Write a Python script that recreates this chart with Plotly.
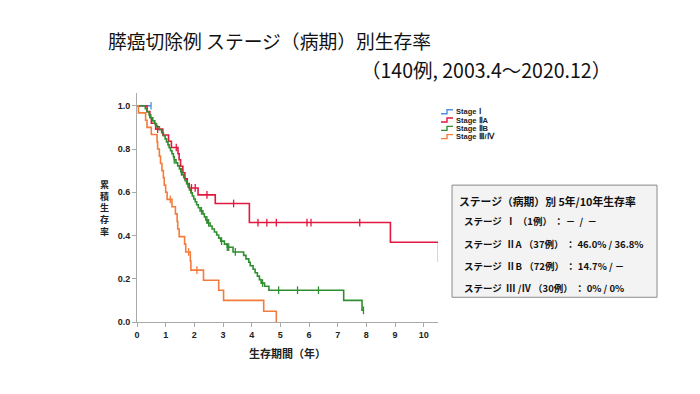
import plotly.graph_objects as go

# ---------------- data ----------------
series_names = ["Stage Ⅰ", "Stage ⅡA", "Stage ⅡB", "Stage Ⅲ/Ⅳ"]

# Stage I
s1_times = [0.0, 0.49]
s1_surv = [1.0, 1.0]
s1_censor = [0.49]

# Stage IIA
s2a_times = [0.0, 0.35, 0.45, 0.50, 0.65, 0.90, 1.10, 1.20, 1.43, 1.47, 1.52, 1.60,
             1.67, 1.75, 1.82, 2.13, 2.73, 3.92, 8.84, 10.52]
s2a_surv = [1.0, 0.973, 0.946, 0.919, 0.892, 0.865, 0.836, 0.807, 0.778, 0.750, 0.720, 0.690,
            0.662, 0.640, 0.620, 0.588, 0.548, 0.460, 0.369, 0.278]
s2a_censor = [0.72, 1.37, 1.90, 2.03, 2.44, 3.37, 4.22, 4.53, 4.86, 5.93, 6.07, 7.77]

# Stage IIB
s2b_times = [0.0, 0.29, 0.35, 0.42, 0.48, 0.55, 0.62, 0.68, 0.78, 0.86, 0.92, 0.98, 1.03,
             1.08, 1.12, 1.17, 1.22, 1.27, 1.30, 1.36, 1.42, 1.48, 1.53, 1.58, 1.63, 1.68,
             1.73, 1.78, 1.83, 1.88, 1.93, 1.98, 2.03, 2.08, 2.14, 2.20, 2.30, 2.35, 2.40,
             2.45, 2.55, 2.62, 2.70, 2.78, 2.85, 2.92, 3.05, 3.15, 3.35, 3.72, 3.80, 3.90,
             3.95, 4.05, 4.12, 4.20, 4.27, 4.33, 4.45, 4.60, 7.21, 7.85, 7.90]
s2b_surv = [1.0, 0.986, 0.972, 0.958, 0.944, 0.930, 0.917, 0.903, 0.889, 0.875, 0.861, 0.847,
            0.833, 0.819, 0.806, 0.792, 0.778, 0.764, 0.750, 0.736, 0.722, 0.708, 0.694, 0.681,
            0.667, 0.653, 0.639, 0.625, 0.611, 0.597, 0.583, 0.569, 0.556, 0.542, 0.528, 0.514,
            0.500, 0.486, 0.472, 0.458, 0.444, 0.430, 0.416, 0.402, 0.388, 0.374, 0.360, 0.346,
            0.324, 0.308, 0.292, 0.276, 0.260, 0.244, 0.228, 0.212, 0.196, 0.180, 0.165, 0.147,
            0.100, 0.054, 0.054]
s2b_censor = [1.30, 1.55, 2.25, 2.44, 2.50, 2.95, 3.15, 3.20, 3.43, 4.38, 4.94, 5.60, 6.33, 7.90]

# Stage III/IV
s34_times = [0.0, 0.05, 0.30, 0.35, 0.50, 0.70, 0.72, 0.78, 0.82, 0.87, 0.92, 0.95, 1.00,
             1.05, 1.22, 1.34, 1.40, 1.42, 1.47, 1.66, 1.70, 1.86, 1.88, 2.32, 2.85, 3.02,
             4.42, 4.86]
s34_surv = [1.0, 0.967, 0.933, 0.900, 0.867, 0.833, 0.800, 0.767, 0.733, 0.700, 0.667, 0.633,
            0.600, 0.567, 0.533, 0.500, 0.465, 0.430, 0.395, 0.360, 0.324, 0.282, 0.240,
            0.193, 0.147, 0.100, 0.050, 0.0]
s34_censor = [1.16, 1.80, 2.09]

colors = ["#4f8fe0", "#e3173f", "#2f8f2f", "#f47b3b"]

x_ticks = [0, 1, 2, 3, 4, 5, 6, 7, 8, 9, 10]
y_ticks = [0.0, 0.2, 0.4, 0.6, 0.8, 1.0]
y_tick_text = ["0.0", "0.2", "0.4", "0.6", "0.8", "1.0"]

title_text = "膵癌切除例 ステージ（病期）別生存率"
subtitle_text = "（140例, 2003.4～2020.12）"
y_title = "累積生存率"
x_title = "生存期間（年）"
box_header = "ステージ（病期）別 5年/10年生存率"
box_lines = [
    "ステージ  Ⅰ （1例） ： －  /  －",
    "ステージ  ⅡA （37例） ： 46.0% / 36.8%",
    "ステージ  ⅡB （72例） ： 14.7% / －",
    "ステージ  Ⅲ /Ⅳ （30例） ： 0% / 0%",
]

# ---------------- figure ----------------
JP = "Noto Sans CJK JP"
LAT = "Arial, Liberation Sans, sans-serif"


def surv_at(times, surv, t):
    val = surv[0]
    for ti, si in zip(times, surv):
        if ti <= t:
            val = si
        else:
            break
    return val


all_series = [
    (s1_times, s1_surv, s1_censor),
    (s2a_times, s2a_surv, s2a_censor),
    (s2b_times, s2b_surv, s2b_censor),
    (s34_times, s34_surv, s34_censor),
]

fig = go.Figure()
for name, col, (ts, ss, cs) in zip(series_names, colors, all_series):
    fig.add_trace(go.Scatter(
        x=ts, y=ss, mode="lines", name=name,
        line=dict(color=col, width=1.6, shape="hv"),
        showlegend=False,
    ))
for name, col, (ts, ss, cs) in zip(series_names, colors, all_series):
    fig.add_trace(go.Scatter(
        x=cs, y=[surv_at(ts, ss, c) for c in cs], mode="markers",
        marker=dict(symbol="line-ns-open", size=5.5, color=col,
                    line=dict(color=col, width=1.3)),
        showlegend=False, hoverinfo="skip",
    ))

# The page body adds an 8px offset; work in screen pixels and convert.
OFF = 8
W, H = 700 - OFF, 394 - OFF
L, R, T, B = 137 - OFF, 438 - OFF, 93 - OFF, 321.7 - OFF
pw, ph = R - L, B - T


def px(xs):
    return (xs - OFF - L) / pw


def py(ys):
    return (B - (ys - OFF)) / ph


annotations = [
    dict(text=title_text, x=px(106), y=py(41), xref="paper", yref="paper",
         xanchor="left", yanchor="middle", showarrow=False,
         font=dict(family=JP, size=18.8, color="#111")),
    dict(text=subtitle_text, x=px(359), y=py(70), xref="paper", yref="paper",
         xanchor="left", yanchor="middle", showarrow=False,
         font=dict(family=JP, size=19.5, color="#111")),
    dict(text=x_title, x=px(287), y=py(353), xref="paper", yref="paper",
         xanchor="center", yanchor="middle", showarrow=False,
         font=dict(family=JP, size=11, color="#222", weight="bold")),
    dict(text=box_header, x=px(457), y=py(201), xref="paper", yref="paper",
         xanchor="left", yanchor="middle", showarrow=False,
         font=dict(family=JP, size=10.8, color="#111", weight="bold")),
    dict(text="<br>".join(list(y_title)), x=px(104), y=py(208), xref="paper", yref="paper",
         xanchor="center", yanchor="middle", showarrow=False,
         font=dict(family=JP, size=9, color="#222", weight="bold")),
]
for yy, line in zip([221, 244, 266, 288], box_lines):
    annotations.append(dict(text=line, x=px(462), y=py(yy), xref="paper", yref="paper",
                            xanchor="left", yanchor="middle", showarrow=False,
                            font=dict(family=JP, size=9.5, color="#111", weight="bold")))

shapes = [
    dict(type="rect", xref="paper", yref="paper",
         x0=px(452), x1=px(657), y0=py(297), y1=py(185),
         fillcolor="#f3f3f3", line=dict(color="#8a8a8a", width=1), layer="below"),
]

# compact legend (step icon + label)
for i, (name, col) in enumerate(zip(series_names, colors)):
    yc = 111.7 + 8.3 * i
    xa, xb, xc = px(441), px(447), px(453)
    ylo, yhi = py(yc + 2), py(yc - 2)
    shapes.append(dict(type="path", xref="paper", yref="paper",
                       path=f"M {xa},{ylo} L {xb},{ylo} L {xb},{yhi} L {xc},{yhi}",
                       line=dict(color=col, width=1.4)))
    annotations.append(dict(text=name, x=px(454), y=py(yc), xref="paper", yref="paper",
                            xanchor="left", yanchor="middle", showarrow=False,
                            font=dict(family=LAT, size=7.5, color="#222", weight="bold")))

fig.update_layout(
    width=W, height=H,
    margin=dict(l=L, r=W - R, t=T, b=H - B, pad=0, autoexpand=False),
    paper_bgcolor="white", plot_bgcolor="white",
    showlegend=False,
    annotations=annotations,
    shapes=shapes,
    xaxis=dict(range=[0, 10.5], tickvals=x_ticks, ticks="outside", ticklen=4,
               tickcolor="#aaa", showline=True, linecolor="#aaa", linewidth=1,
               showgrid=False, zeroline=False, automargin=False,
               tickfont=dict(family=LAT, size=9, color="#222", weight="bold")),
    yaxis=dict(range=[0, 1.059], tickvals=y_ticks, ticktext=y_tick_text, ticks="outside",
               ticklen=4, tickcolor="#aaa", showline=True, linecolor="#aaa", linewidth=1,
               showgrid=False, zeroline=False, automargin=False,
               tickfont=dict(family=LAT, size=9, color="#222", weight="bold")),
)

fig.write_html("out.html")
